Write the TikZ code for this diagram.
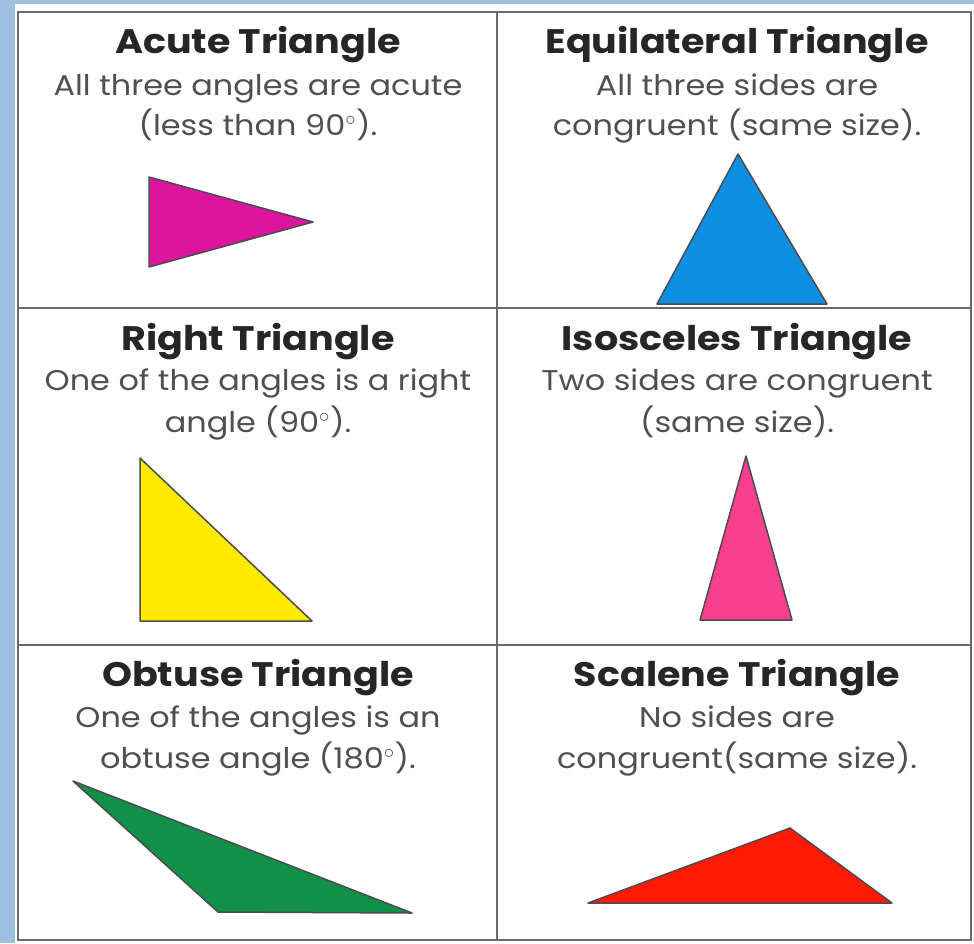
\documentclass[tikz,border=0pt]{standalone}
\usepackage{fontspec}
\setmainfont{Poppins}
\newfontfamily\widefont[FakeStretch=1.12]{Poppins}
\usepackage{xcolor}
\usetikzlibrary{positioning}

\definecolor{framebl}{HTML}{9DC0E0}
\definecolor{gridgr}{HTML}{6A6A6A}
\definecolor{descgr}{HTML}{505050}
\definecolor{acutemg}{HTML}{DC149E}
\definecolor{equiblue}{HTML}{0E8FE2}
\definecolor{rightyl}{HTML}{FFEA00}
\definecolor{isopink}{HTML}{F8408E}
\definecolor{obtgreen}{HTML}{12904A}
\definecolor{scalred}{HTML}{FF1A05}

\tikzset{
    title/.style={anchor=base, inner sep=0pt, font=\widefont\fontsize{34}{34}\selectfont\bfseries, text=black!85},
    desc/.style={anchor=base, inner sep=0pt, font=\widefont\fontsize{28.5}{28.5}\selectfont, text=descgr},
    tri/.style={draw=black!70, line width=1.5pt, line join=round}
}

\begin{document}
\begin{tikzpicture}[x=1pt, y=-1pt]
    \useasboundingbox (0,0) rectangle (974,943);
    % Frame and grid
    \fill[framebl] (0,0) rectangle (974,943);
    \fill[white] (15,4) rectangle (974,943);
    \draw[gridgr, line width=2.4pt] (18,12) rectangle (971,940);
    \draw[gridgr, line width=2.4pt] (497,12) -- (497,940);
    \draw[gridgr, line width=2.4pt] (18,308) -- (971,308);
    \draw[gridgr, line width=2.4pt] (18,645) -- (971,645);

    % Acute triangle
    \node[title] (acuteT) at (258,53) {Acute Triangle};
    \node[desc] (acuteA) at (258,95) {All three angles are acute};
    \node[desc] (acuteB) at (258,135) {(less than 90$^{\circ}$).};
    \draw[tri, fill=acutemg] (149,177) -- (149,267) -- (313,222) -- cycle;

    % Equilateral triangle
    \node[title] (equiT) at (737,53) {Equilateral Triangle};
    \node[desc] (equiA) at (737,95) {All three sides are};
    \node[desc] (equiB) at (737,135) {congruent (same size).};
    \draw[tri, fill=equiblue] (738,154) -- (657,304) -- (827,304) -- cycle;

    % Right triangle
    \node[title] (rightT) at (258,350) {Right Triangle};
    \node[desc] (rightA) at (258,390) {One of the angles is a right};
    \node[desc] (rightB) at (258,432) {angle (90$^{\circ}$).};
    \draw[tri, fill=rightyl] (140,458) -- (140,621) -- (312,621) -- cycle;

    % Isosceles triangle
    \node[title] (isoT) at (737,350) {Isosceles Triangle};
    \node[desc] (isoA) at (737,390) {Two sides are congruent};
    \node[desc] (isoB) at (737,432) {(same size).};
    \draw[tri, fill=isopink] (746,456) -- (700,620) -- (792,620) -- cycle;

    % Obtuse triangle
    \node[title] (obtT) at (258,686) {Obtuse Triangle};
    \node[desc] (obtA) at (258,727) {One of the angles is an};
    \node[desc] (obtB) at (258,768) {obtuse angle (180$^{\circ}$).};
    \draw[tri, fill=obtgreen] (73,781) -- (218,912) -- (412,913) -- cycle;

    % Scalene triangle
    \node[title] (scalT) at (737,686) {Scalene Triangle};
    \node[desc] (scalA) at (737,727) {No sides are};
    \node[desc] (scalB) at (737,768) {congruent(same size).};
    \draw[tri, fill=scalred] (588,903) -- (790,828) -- (892,903) -- cycle;
\end{tikzpicture}
\end{document}
